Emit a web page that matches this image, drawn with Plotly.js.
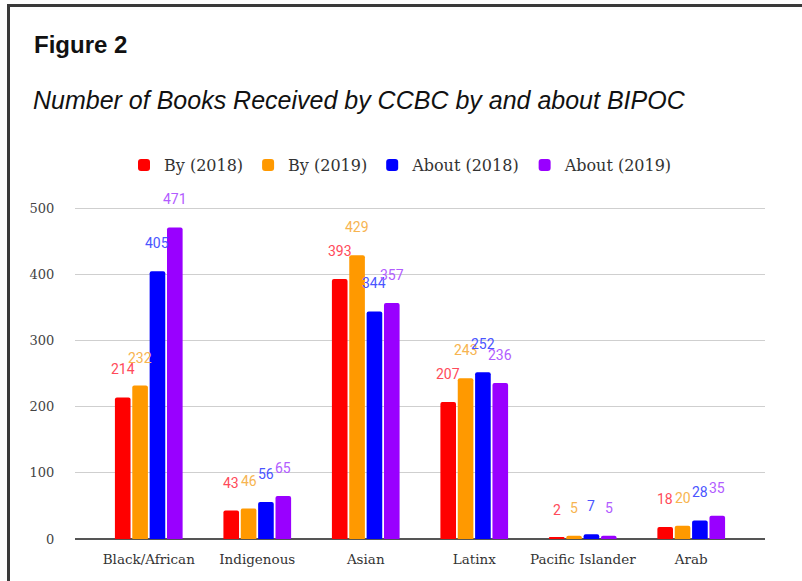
<!DOCTYPE html>
<html>
<head>
<meta charset="utf-8">
<script src="https://cdn.plot.ly/plotly-3.0.1.min.js"></script>
<style>
html,body{margin:0;padding:0;background:#fff;}
#wrap{position:relative;width:802px;height:581px;overflow:hidden;}
#chart{position:absolute;left:0;top:0;width:802px;height:581px;}
#frame{position:absolute;left:7px;top:4px;width:820px;height:600px;border-top:3px solid #3a3a3a;border-left:3px solid #3a3a3a;pointer-events:none;}
</style>
</head>
<body>
<div id="wrap"><div id="chart"></div><div id="frame"></div></div>
<script>
const categories = ["Black/African", "Indigenous", "Asian", "Latinx", "Pacific Islander", "Arab"];
const seriesNames = ["By (2018)", "By (2019)", "About (2018)", "About (2019)"];
const by2018 = [214, 43, 393, 207, 2, 18];
const by2019 = [232, 46, 429, 243, 5, 20];
const about2018 = [405, 56, 344, 252, 7, 28];
const about2019 = [471, 65, 357, 236, 5, 35];
const yTicks = [0, 100, 200, 300, 400, 500];

const series = [by2018, by2019, about2018, about2019];
const barColors = ["#ff0000", "#ff9900", "#0000ff", "#9900ff"];
const labelColors = ["#ff4a5a", "#f7b450", "#4a55ff", "#b25cff"];

const plotW = 690, plotH = 334, nCat = categories.length, xPad = 0.68;
const catPx = plotW / (nCat - 1 + 2 * xPad);
const bargap = 0.36;
const slot = catPx * (1 - bargap) / series.length;

const traces = series.map((vals, i) => ({
  type: "bar",
  name: seriesNames[i],
  x: categories,
  y: vals,
  marker: {color: barColors[i], cornerradius: 2},
  hoverinfo: "x+y+name"
}));

const annotations = [];
series.forEach((vals, i) => {
  vals.forEach((v, j) => {
    annotations.push({
      x: categories[j], y: v, xref: "x", yref: "y",
      text: String(v), showarrow: false,
      xanchor: "center", yanchor: "middle",
      xshift: (i - (series.length - 1) / 2) * slot,
      yshift: 28,
      font: {family: "Roboto, 'Noto Sans', sans-serif", size: 14, color: labelColors[i]}
    });
  });
});

annotations.push({
  xref: "paper", yref: "paper", x: -44 / plotW, y: (539 - 100) / plotH,
  xanchor: "left", yanchor: "middle", showarrow: false,
  text: "<i>Number of Books Received by CCBC by and about BIPOC</i>",
  font: {family: "'Liberation Sans', Arial, sans-serif", size: 25, color: "#111"}
});

const layout = {
  width: 802, height: 581,
  paper_bgcolor: "#fff", plot_bgcolor: "#fff",
  margin: {l: 75, r: 37, t: 205, b: 42, pad: 0},
  title: {
    text: "<b>Figure 2</b>",
    xref: "container", yref: "container",
    x: 34 / 802, xanchor: "left",
    y: 1 - 45 / 581, yanchor: "middle",
    font: {family: "'Liberation Sans', Arial, sans-serif", size: 24, color: "#111"}
  },
  barmode: "group",
  bargap: bargap,
  bargroupgap: 0.1,
  showlegend: true,
  legend: {
    orientation: "h",
    x: (401 - 75) / plotW, xanchor: "center",
    y: (539 - 165) / plotH, yanchor: "middle",
    font: {family: "'DejaVu Serif', 'Liberation Serif', serif", size: 16, color: "#333"},
    itemclick: false, itemdoubleclick: false
  },
  xaxis: {
    type: "category",
    range: [-xPad, nCat - 1 + xPad],
    showgrid: false,
    showline: false,
    ticks: "outside", ticklen: 8, tickcolor: "rgba(0,0,0,0)",
    tickfont: {family: "'DejaVu Serif', 'Liberation Serif', serif", size: 13.5, color: "#333"},
    fixedrange: true
  },
  yaxis: {
    range: [0, 505],
    tickvals: yTicks,
    ticktext: yTicks.map(String),
    showgrid: true, gridcolor: "#cfcfcf", gridwidth: 1,
    zeroline: true, zerolinecolor: "#555", zerolinewidth: 2,
    ticks: "outside", ticklen: 17, tickcolor: "rgba(0,0,0,0)",
    tickfont: {family: "'DejaVu Serif', 'Liberation Serif', serif", size: 13, color: "#444"},
    fixedrange: true
  },
  annotations: annotations
};

Plotly.newPlot("chart", traces, layout, {displayModeBar: false, responsive: false});
</script>
</body>
</html>
